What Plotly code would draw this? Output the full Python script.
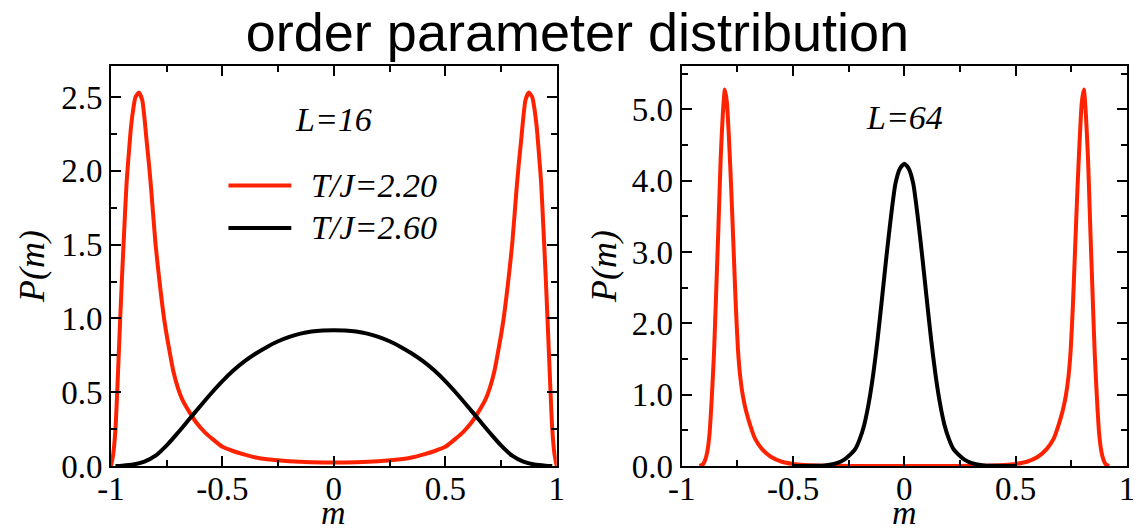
import plotly.graph_objects as go

# ---------------- data ----------------
# L=16, T/J=2.20 (red)
m16_red = [-1.00, -0.99, -0.98, -0.97, -0.96, -0.95, -0.94, -0.93, -0.92, -0.91, -0.90, -0.89,
           -0.875, -0.86, -0.85, -0.84, -0.83, -0.82, -0.80, -0.78, -0.76, -0.74, -0.72, -0.70,
           -0.68, -0.65, -0.62, -0.58, -0.55, -0.50, -0.45, -0.40, -0.35, -0.30, -0.20, -0.10,
           0.00,
           0.10, 0.20, 0.30, 0.35, 0.40, 0.45, 0.50, 0.55, 0.58, 0.62, 0.65, 0.68, 0.70, 0.72,
           0.74, 0.76, 0.78, 0.80, 0.82, 0.83, 0.84, 0.85, 0.86, 0.875, 0.89, 0.90, 0.91, 0.92,
           0.93, 0.94, 0.95, 0.96, 0.97, 0.98, 0.99, 1.00]
p16_red = [0.00, 0.08, 0.25, 0.58, 0.95, 1.30, 1.62, 1.92, 2.12, 2.30, 2.42, 2.50,
           2.53, 2.48, 2.36, 2.20, 2.05, 1.88, 1.50, 1.22, 0.98, 0.80, 0.64, 0.53,
           0.45, 0.37, 0.30, 0.23, 0.19, 0.13, 0.10, 0.077, 0.058, 0.046, 0.032, 0.025,
           0.023,
           0.025, 0.032, 0.046, 0.058, 0.077, 0.10, 0.13, 0.19, 0.23, 0.30, 0.37, 0.45, 0.53, 0.64,
           0.80, 0.98, 1.22, 1.50, 1.88, 2.05, 2.20, 2.36, 2.48, 2.53, 2.50, 2.42, 2.30, 2.12,
           1.92, 1.62, 1.30, 0.95, 0.58, 0.25, 0.08, 0.00]

# L=16, T/J=2.60 (black)
m16_blk = [-0.98, -0.95, -0.90, -0.85, -0.80, -0.75, -0.70, -0.65, -0.60, -0.55, -0.50,
           -0.45, -0.40, -0.35, -0.30, -0.25, -0.20, -0.15, -0.10, -0.05, 0.00,
           0.05, 0.10, 0.15, 0.20, 0.25, 0.30, 0.35, 0.40, 0.45, 0.50, 0.55, 0.60, 0.65, 0.70,
           0.75, 0.80, 0.85, 0.90, 0.95, 0.98]
p16_blk = [0.000, 0.002, 0.010, 0.030, 0.070, 0.140, 0.225, 0.315, 0.405, 0.493, 0.575,
           0.648, 0.710, 0.762, 0.807, 0.845, 0.875, 0.897, 0.911, 0.918, 0.920,
           0.918, 0.911, 0.897, 0.875, 0.845, 0.807, 0.762, 0.710, 0.648, 0.575, 0.493, 0.405, 0.315, 0.225,
           0.140, 0.070, 0.030, 0.010, 0.002, 0.000]

# L=64, T/J=2.20 (red)
m64_red = [-0.92, -0.905, -0.895, -0.885, -0.875, -0.865, -0.855, -0.845, -0.835, -0.825, -0.815,
           -0.806, -0.797, -0.787, -0.777, -0.767, -0.757, -0.747, -0.737, -0.725, -0.71, -0.69,
           -0.67, -0.64, -0.60, -0.55, -0.50, -0.45, -0.40, -0.30, -0.20, 0.00,
           0.20, 0.30, 0.40, 0.45, 0.50, 0.55, 0.60, 0.64, 0.67, 0.69, 0.71, 0.725, 0.737, 0.747,
           0.757, 0.767, 0.777, 0.787, 0.797, 0.806, 0.815, 0.825, 0.835, 0.845, 0.855, 0.865,
           0.875, 0.885, 0.895, 0.905, 0.92]
p64_red = [0.00, 0.02, 0.08, 0.20, 0.45, 0.95, 1.58, 2.45, 3.35, 4.30, 4.95,
           5.28, 5.10, 4.55, 3.85, 3.05, 2.25, 1.62, 1.25, 0.98, 0.76, 0.55,
           0.38, 0.24, 0.13, 0.06, 0.03, 0.015, 0.008, 0.003, 0.001, 0.000,
           0.001, 0.003, 0.008, 0.015, 0.03, 0.06, 0.13, 0.24, 0.38, 0.55, 0.76, 0.98, 1.25, 1.62,
           2.25, 3.05, 3.85, 4.55, 5.10, 5.28, 4.95, 4.30, 3.35, 2.45, 1.58, 0.95,
           0.45, 0.20, 0.08, 0.02, 0.00]

# L=64, T/J=2.60 (black)
m64_blk = [-0.50, -0.40, -0.35, -0.30, -0.27, -0.25, -0.22, -0.20, -0.18, -0.16, -0.14, -0.12,
           -0.10, -0.08, -0.06, -0.04, -0.02, 0.00,
           0.02, 0.04, 0.06, 0.08, 0.10, 0.12, 0.14, 0.16, 0.18, 0.20, 0.22, 0.25, 0.27, 0.30,
           0.35, 0.40, 0.50]
p64_blk = [0.000, 0.002, 0.012, 0.045, 0.09, 0.14, 0.24, 0.38, 0.58, 0.88, 1.28, 1.78,
           2.36, 2.95, 3.50, 3.96, 4.17, 4.24,
           4.17, 3.96, 3.50, 2.95, 2.36, 1.78, 1.28, 0.88, 0.58, 0.38, 0.24, 0.14, 0.09, 0.045,
           0.012, 0.002, 0.000]

x_tickvals = [-1, -0.5, 0, 0.5, 1]
x_ticktext = ["-1", "-0.5", "0", "0.5", "1"]
y1_tickvals = [0, 0.5, 1.0, 1.5, 2.0, 2.5]
y1_ticktext = ["0.0", "0.5", "1.0", "1.5", "2.0", "2.5"]
y2_tickvals = [0, 1, 2, 3, 4, 5]
y2_ticktext = ["0.0", "1.0", "2.0", "3.0", "4.0", "5.0"]

RED = "rgb(255,34,0)"
BLACK = "black"
SERIF = "Liberation Serif"

# The page body has an 8 px margin, so the figure is 8 px smaller than the window
W, H = 1133, 523
ML, MR, MT, MB = 103, 14, 58, 65

fig = go.Figure()
fig.add_trace(go.Scatter(x=m16_red, y=p16_red, mode="lines", line=dict(color=RED, width=4, shape="spline", smoothing=0.6),
                         xaxis="x", yaxis="y", showlegend=False))
fig.add_trace(go.Scatter(x=m16_blk, y=p16_blk, mode="lines", line=dict(color=BLACK, width=4, shape="spline", smoothing=0.8),
                         xaxis="x", yaxis="y", showlegend=False))
fig.add_trace(go.Scatter(x=m64_red, y=p64_red, mode="lines", line=dict(color=RED, width=4, shape="spline", smoothing=0.6),
                         xaxis="x2", yaxis="y2", showlegend=False))
fig.add_trace(go.Scatter(x=m64_blk, y=p64_blk, mode="lines", line=dict(color=BLACK, width=4, shape="spline", smoothing=0.6),
                         xaxis="x2", yaxis="y2", showlegend=False))

common_x = dict(range=[-1, 1], tickvals=x_tickvals, ticktext=x_ticktext, ticks="inside", ticklen=10,
                tickwidth=1.5, tickcolor="black", showline=True, linewidth=2, linecolor="black",
                mirror="ticks", showgrid=False, zeroline=False, automargin=False, ticklabelstandoff=-8,
                minor=dict(dtick=0.25, ticks="inside", ticklen=6, tickwidth=1.5, tickcolor="black", showgrid=False),
                tickfont=dict(family=SERIF, size=33, color="black"))
common_y = dict(ticks="inside", ticklen=10, tickwidth=1.5, tickcolor="black", showline=True, linewidth=2,
                linecolor="black", mirror="ticks", showgrid=False, zeroline=False, automargin=False,
                tickfont=dict(family=SERIF, size=33, color="black"))

fig.update_layout(
    width=W, height=H,
    margin=dict(l=ML, r=MR, t=MT, b=MB),
    paper_bgcolor="white", plot_bgcolor="white",
    font=dict(family=SERIF, color="black"),
    xaxis=dict(domain=[0, 0.4387], anchor="y", **common_x),
    xaxis2=dict(domain=[0.5617, 1.0], anchor="y2", **common_x),
    yaxis=dict(range=[0, 2.71], tickvals=y1_tickvals, ticktext=y1_ticktext, anchor="x",
               minor=dict(dtick=0.25, ticks="inside", ticklen=6, tickwidth=1.5, tickcolor="black", showgrid=False),
               **common_y),
    yaxis2=dict(range=[0, 5.61], tickvals=y2_tickvals, ticktext=y2_ticktext, anchor="x2",
                minor=dict(dtick=0.5, ticks="inside", ticklen=6, tickwidth=1.5, tickcolor="black", showgrid=False),
                **common_y),
    title=dict(text="order parameter distribution", font=dict(family="Liberation Sans", size=54, color="black"),
               x=0.5026, xref="container", xanchor="center", y=0.99, yref="container", yanchor="top",
               automargin=False),
    showlegend=False,
)

# axis titles
for xr in ["x domain", "x2 domain"]:
    fig.add_annotation(text="<i>m</i>", x=0.5, y=-0.115, xref=xr, yref="paper", xanchor="center",
                       yanchor="middle", showarrow=False, font=dict(family=SERIF, size=34, color="black"))
for xp in [-0.0778, 0.4852]:
    fig.add_annotation(text="<i>P(m)</i>", x=xp, y=0.5, xref="paper", yref="paper", xanchor="center",
                       yanchor="middle", textangle=-90, showarrow=False,
                       font=dict(family=SERIF, size=36, color="black"))

# panel labels
fig.add_annotation(text="<i>L=16</i>", x=0, y=2.35, xref="x", yref="y", showarrow=False,
                   font=dict(family=SERIF, size=34, color="black"))
fig.add_annotation(text="<i>L=64</i>", x=0, y=4.886, xref="x2", yref="y2", showarrow=False,
                   font=dict(family=SERIF, size=34, color="black"))

# legend (drawn inside the left panel)
legend_items = [("T/J=2.20", RED, 1.90), ("T/J=2.60", BLACK, 1.613)]
for label, col, yy in legend_items:
    fig.add_shape(type="line", xref="x", yref="y", x0=-0.473, x1=-0.191, y0=yy, y1=yy,
                  line=dict(color=col, width=4))
    fig.add_annotation(text="<i>" + label + "</i>", x=-0.111, y=yy, xref="x", yref="y", xanchor="left",
                       showarrow=False, font=dict(family=SERIF, size=34, color="black"))

fig.write_html("out.html")
